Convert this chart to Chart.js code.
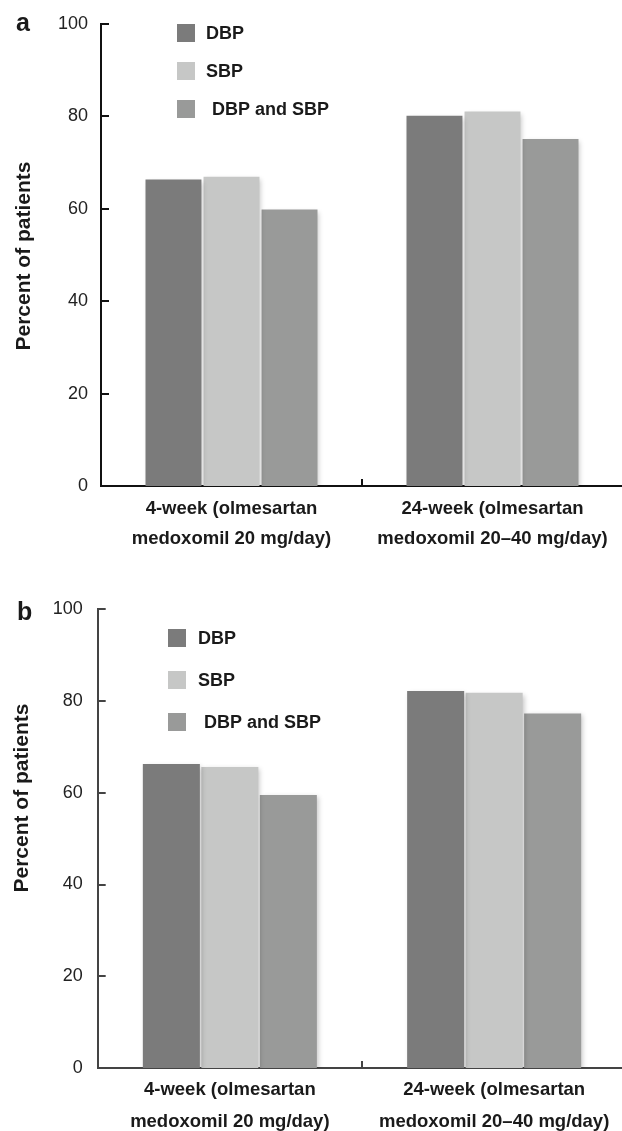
<!DOCTYPE html>
<html><head><meta charset="utf-8">
<script src="https://cdn.jsdelivr.net/npm/chart.js@4.4.1/dist/chart.umd.min.js"></script>
<style>
html,body{margin:0;padding:0;background:#fff;width:622px;height:1131px;overflow:hidden;}
#wrap{position:relative;width:622px;height:1131px;overflow:hidden;}
canvas{position:absolute;left:0;}
#ca{top:0;}
#cb{top:565px;}
</style></head><body>
<div id="wrap"><canvas id="ca" width="630" height="565"></canvas><canvas id="cb" width="630" height="566"></canvas></div>
<script>
// ---- data ----
const categories = [["4-week (olmesartan", "medoxomil 20 mg/day)"], ["24-week (olmesartan", "medoxomil 20\u201340 mg/day)"]];
const seriesNames = ["DBP", "SBP", "DBP and SBP"];
const yTickValues = [0, 20, 40, 60, 80, 100];
const panelA_DBP = [66.3, 80.1];
const panelA_SBP = [66.9, 81.0];
const panelA_Both = [59.8, 75.1];
const panelB_DBP = [66.3, 82.2];
const panelB_SBP = [65.6, 81.8];
const panelB_Both = [59.5, 77.3];
const panelLetters = ["a", "b"];
const yTitle = "Percent of patients";

// ---- style ----
const FONT = "'Liberation Sans', Arial, Helvetica, sans-serif";
const seriesColors = ["#7b7b7b", "#c6c7c6", "#999a99"];
Chart.defaults.font.family = FONT;
Chart.defaults.animation = false;

function makeChart(canvas, values, st) {
  const overlay = {
    id: 'overlay',
    beforeDatasetsDraw(chart) {
      const c = chart.ctx; c.save();
      c.shadowColor = 'rgba(0,0,0,0.22)'; c.shadowBlur = 5; c.shadowOffsetX = 2; c.shadowOffsetY = 2;
    },
    afterDatasetsDraw(chart) { chart.ctx.restore(); },
    afterDraw(chart) {
      const c = chart.ctx, ca = chart.chartArea;
      const ys = chart.scales.y, xs = chart.scales.x;
      c.save();
      c.strokeStyle = st.axisColor; c.lineWidth = 2;
      // inward y ticks
      yTickValues.forEach(v => {
        const py = Math.round(ys.getPixelForValue(v));
        c.beginPath(); c.moveTo(ca.left, py); c.lineTo(ca.left + 8, py); c.stroke();
      });
      // inward x ticks at category boundaries
      for (let i = 0; i < categories.length; i++) {
        const px = Math.round(xs.getPixelForValue(i + 0.5));
        c.beginPath(); c.moveTo(px, ca.bottom); c.lineTo(px, ca.bottom - 7); c.stroke();
      }
      // legend
      c.font = "bold 18px " + FONT; c.textBaseline = 'middle'; c.fillStyle = '#1a1a1a';
      chart.data.datasets.forEach((ds, i) => {
        const cy = st.legY + i * st.legGap;
        c.fillStyle = ds.backgroundColor;
        c.fillRect(st.legX, cy - st.legSq / 2, st.legSq, st.legSq);
        c.fillStyle = '#1a1a1a';
        c.fillText(ds.label, st.legTextX + (i === 2 ? 6 : 0), cy + 1);
      });
      // y title
      c.save();
      c.translate(st.titleX, st.titleY); c.rotate(-Math.PI / 2);
      c.font = "bold 21px " + FONT; c.textAlign = 'center'; c.textBaseline = 'middle';
      c.fillText(yTitle, 0, 0);
      c.restore();
      // panel letter
      c.font = "bold 25px " + FONT; c.textAlign = 'left'; c.textBaseline = 'alphabetic';
      c.fillText(st.letter, st.letterX, st.letterY);
      c.restore();
    }
  };
  return new Chart(canvas, {
    type: 'bar',
    data: {
      labels: categories,
      datasets: values.map((v, i) => ({
        label: seriesNames[i], data: v, backgroundColor: seriesColors[i],
        borderWidth: 0,
        categoryPercentage: st.catPct, barPercentage: st.barPct
      }))
    },
    options: {
      responsive: false, devicePixelRatio: 1, animation: false,
      layout: { padding: { top: st.padTop, right: st.padRight, left: 0, bottom: 0 } },
      plugins: { legend: { display: false }, tooltip: { enabled: false } },
      scales: {
        x: {
          grid: { display: false, drawTicks: false },
          border: { display: true, color: st.axisColor, width: 2 },
          ticks: { color: '#1a1a1a', font: { size: 18.5, weight: 'bold', lineHeight: st.xLineH }, padding: st.xPad, maxRotation: 0, autoSkip: false },
          afterFit: s => { s.height = st.xH; }
        },
        y: {
          min: 0, max: 100,
          afterBuildTicks: s => { s.ticks = yTickValues.map(v => ({ value: v })); },
          grid: { display: false, drawTicks: false },
          border: { display: true, color: st.axisColor, width: 2 },
          ticks: { color: '#222', font: { size: 18 }, padding: st.yPad },
          afterFit: s => { s.width = st.yW; }
        }
      }
    },
    plugins: [overlay]
  });
}

makeChart(document.getElementById('ca'), [panelA_DBP, panelA_SBP, panelA_Both], {
  padTop: 22, padRight: 7, xH: 79, yW: 101, yPad: 13, xPad: 8, xLineH: '30px',
  catPct: 0.667, barPct: 0.964, axisColor: '#111',
  legX: 177, legSq: 18, legY: 33, legGap: 38, legTextX: 206,
  titleX: 24, titleY: 256, letter: panelLetters[0], letterX: 16, letterY: 31
});
makeChart(document.getElementById('cb'), [panelB_DBP, panelB_SBP, panelB_Both], {
  padTop: 44.3, padRight: 3.7, xH: 63, yW: 97.7, yPad: 15, xPad: 6, xLineH: '32px',
  catPct: 0.664, barPct: 0.975, axisColor: '#444',
  legX: 168, legSq: 18, legY: 73, legGap: 42, legTextX: 198,
  titleX: 22, titleY: 233, letter: panelLetters[1], letterX: 17, letterY: 55
});
</script>
</body></html>
